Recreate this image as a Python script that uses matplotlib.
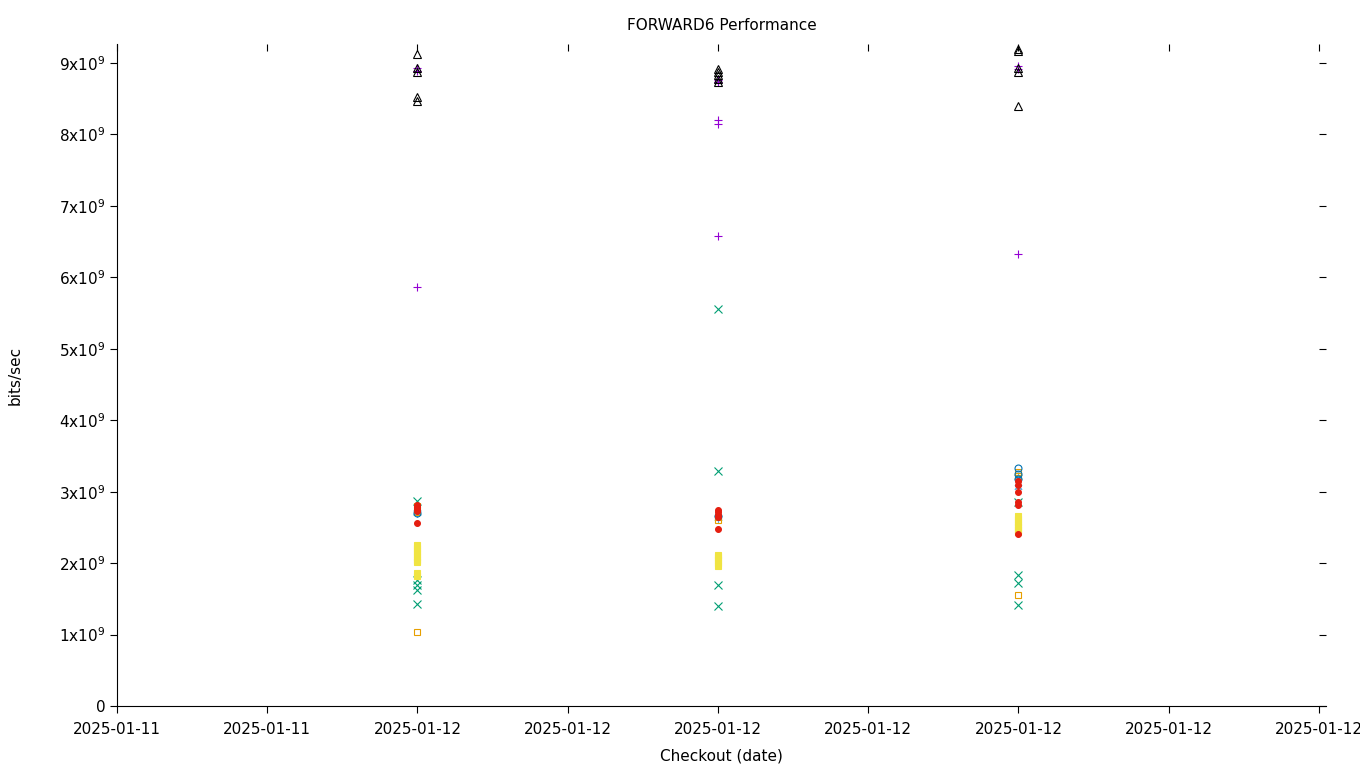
import matplotlib
matplotlib.use("Agg")
import matplotlib.pyplot as plt
import matplotlib.dates as mdates
from matplotlib.ticker import FuncFormatter, MultipleLocator
import numpy as np
from datetime import datetime

# checkout times of the three runs
checkouts = [datetime(2025, 1, 12, 0), datetime(2025, 1, 12, 2), datetime(2025, 1, 12, 4)]

# measured throughput per test (x1e9 bits/sec), one list per checkout
test1 = [[8.93, 8.89, 5.86], [8.76, 8.73, 8.20, 8.14, 6.58], [8.96, 8.91, 6.33]]
test2 = [[2.87, 1.76, 1.69, 1.62, 1.43], [5.55, 3.29, 1.69, 1.40], [2.85, 1.83, 1.72, 1.41]]
test3 = [[2.70, 2.72], [2.63], [3.07, 3.20]]
test4 = [[2.80, 2.72, 1.04], [2.65, 2.60], [3.28, 3.22, 1.55]]
test5 = [[2.25, 2.21, 2.17, 2.13, 2.09, 2.05, 2.02, 1.86, 1.82],
         [2.12, 2.08, 2.04, 2.00, 1.96],
         [2.66, 2.62, 2.58, 2.54, 2.50, 2.46, 2.43]]
test6 = [[2.70], [2.66], [3.33, 3.25, 3.18]]
test7 = [[2.82, 2.79, 2.76, 2.73, 2.56], [2.74, 2.71, 2.68, 2.65, 2.48],
         [3.15, 3.10, 3.00, 2.86, 2.82, 2.41]]
test8 = [[9.13, 8.93, 8.88, 8.52, 8.47], [8.92, 8.87, 8.83, 8.78, 8.74],
         [9.20, 9.17, 8.93, 8.88, 8.40]]

series = [test1, test2, test3, test4, test5, test6, test7, test8]
# gnuplot default point types / colours
styles = [
    dict(marker="+", color="#9400d3", mfc="none", ms=6),
    dict(marker="x", color="#009e73", mfc="none", ms=5.5),
    dict(marker=(6, 2, 0), color="#56b4e9", mfc="none", ms=6),
    dict(marker="s", color="#e69f00", mfc="none", ms=5),
    dict(marker="s", color="#f0e442", mfc="#f0e442", ms=5),
    dict(marker="o", color="#0072b2", mfc="none", ms=5),
    dict(marker="o", color="#e51e10", mfc="#e51e10", ms=4.2),
    dict(marker="^", color="black", mfc="none", ms=6),
]

plt.rcParams["font.family"] = "DejaVu Sans"
plt.rcParams["font.size"] = 11

fig = plt.figure(figsize=(13.6, 7.68), dpi=100)
ax = fig.add_axes([117 / 1360, 1 - 706 / 768, (1326 - 117) / 1360, (706 - 44) / 768])

for data, st in zip(series, styles):
    for t, vals in zip(checkouts, data):
        v = np.array(vals) * 1e9
        ax.plot([t] * len(v), v, linestyle="none", marker=st["marker"], color=st["color"],
                markerfacecolor=st["mfc"], markersize=st["ms"], markeredgewidth=0.8)

start = datetime(2025, 1, 11, 22)
ax.set_xlim(mdates.date2num(start), mdates.date2num(datetime(2025, 1, 12, 6)) + 0.047 / 24)
ax.set_ylim(0, 9.266e9)

ax.xaxis.set_major_locator(mdates.HourLocator(interval=1))
ax.xaxis.set_major_formatter(mdates.DateFormatter("%Y-%m-%d"))
ax.yaxis.set_major_locator(MultipleLocator(1e9))

def yfmt(v, pos):
    n = int(round(v / 1e9))
    return "0" if n == 0 else f"{n}x10$^{{9}}$"

ax.yaxis.set_major_formatter(FuncFormatter(yfmt))

for s in ["top", "right"]:
    ax.spines[s].set_visible(False)
for s in ["left", "bottom"]:
    ax.spines[s].set_linewidth(0.8)
ax.tick_params(direction="out", length=5, width=0.8, labelsize=11)
ax.tick_params(axis="x", pad=6.5)

# mirrored inward ticks on top and right
top = ax.secondary_xaxis("top")
top.xaxis.set_major_locator(mdates.HourLocator(interval=1))
top.tick_params(direction="in", length=5, width=0.8, labeltop=False)
top.spines["top"].set_visible(False)
right = ax.secondary_yaxis("right")
right.yaxis.set_major_locator(MultipleLocator(1e9))
right.tick_params(direction="in", length=5, width=0.8, labelright=False)
right.spines["right"].set_visible(False)

ax.set_title("FORWARD6 Performance", fontsize=11, pad=10)
ax.set_xlabel("Checkout (date)", fontsize=11, labelpad=8)
ax.set_ylabel("bits/sec", fontsize=11, labelpad=26)

fig.savefig("out.png", dpi=100)
